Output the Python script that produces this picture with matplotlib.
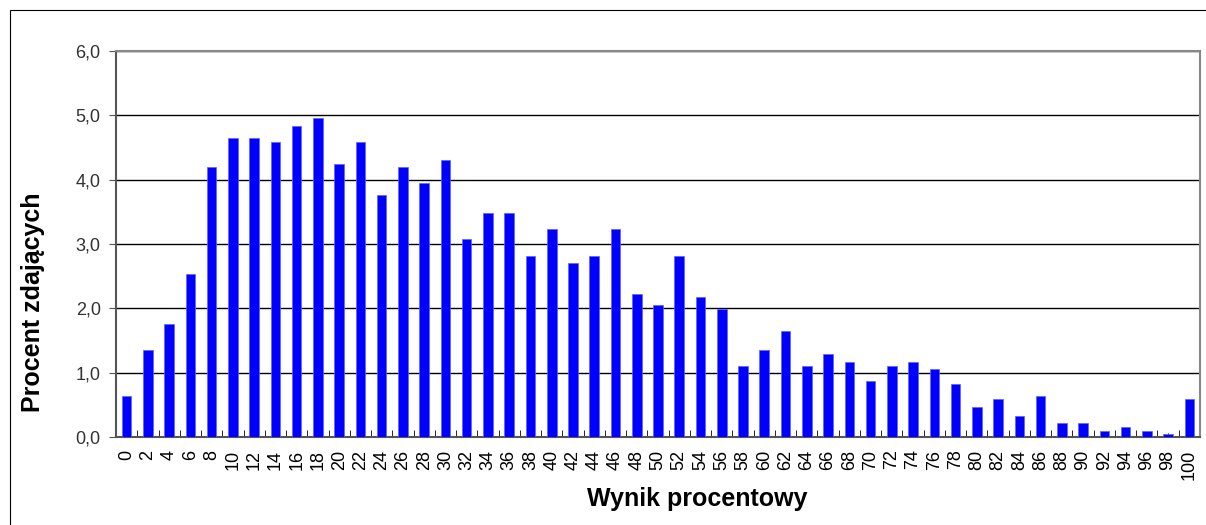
import numpy as np
import matplotlib.pyplot as plt
from matplotlib.patches import Rectangle

plt.rcParams['font.family'] = ['Liberation Sans', 'DejaVu Sans']

# dane - wynik procentowy i procent zdajacych
wyniki = list(range(0, 101, 2))
procent = [0.64, 1.36, 1.76, 2.53, 4.19, 4.65, 4.65, 4.59, 4.84, 4.96,
           4.24, 4.59, 3.76, 4.19, 3.95, 4.30, 3.07, 3.48, 3.48, 2.82,
           3.24, 2.70, 2.82, 3.24, 2.23, 2.05, 2.82, 2.18, 1.99, 1.11,
           1.36, 1.64, 1.11, 1.29, 1.16, 0.87, 1.11, 1.16, 1.05, 0.82,
           0.47, 0.59, 0.33, 0.64, 0.22, 0.22, 0.10, 0.16, 0.10, 0.05,
           0.59]
y_ticks = [0, 1, 2, 3, 4, 5, 6]

fig = plt.figure(figsize=(12.06, 5.25), dpi=100)
fig.patches.append(Rectangle((10 / 1206, -0.1), 1.2, (525 - 10) / 525 + 0.1,
                             transform=fig.transFigure, fill=False,
                             edgecolor='black', linewidth=0.8))
ax = fig.add_axes([116 / 1206, 88 / 525, (1200 - 116) / 1206, (437 - 51) / 525])

x = np.arange(len(wyniki))
ax.bar(x, procent, width=0.45, color='#0000ff', edgecolor='#6060ff',
       linewidth=0.5, zorder=3)

ax.set_xlim(-0.5, len(wyniki) - 0.5)
ax.set_ylim(0, 6)
ax.set_yticks(y_ticks)
ax.set_yticklabels([f"{v:.1f}".replace('.', ',') for v in y_ticks],
                   fontsize=13, color='#333333')
ax.yaxis.grid(True, color='black', linewidth=1.0, zorder=0)

ax.set_xticks(x)
ax.set_xticklabels([str(w) for w in wyniki], rotation=90, fontsize=13)
ax.tick_params(axis='x', which='major', direction='in', length=3,
               color='black', pad=9)
ax.set_xticks(np.arange(len(wyniki) + 1) - 0.5, minor=True)
ax.tick_params(axis='x', which='minor', direction='in', length=5, color='black')
ax.tick_params(axis='y', direction='out', length=5, color='#555555', pad=6)

for s in ['top', 'right']:
    ax.spines[s].set_color('#888888')
    ax.spines[s].set_linewidth(1.5)
for s in ['left', 'bottom']:
    ax.spines[s].set_color('#555555')
    ax.spines[s].set_linewidth(1.5)

ax.set_xlabel("Wynik procentowy", fontsize=18, fontweight='bold')
ax.set_ylabel("Procent zdających", fontsize=18, fontweight='bold')
ax.xaxis.set_label_coords(0.536, -0.13)
ax.yaxis.set_label_coords(-0.0655, 0.35)

fig.savefig("out.png", dpi=100)
